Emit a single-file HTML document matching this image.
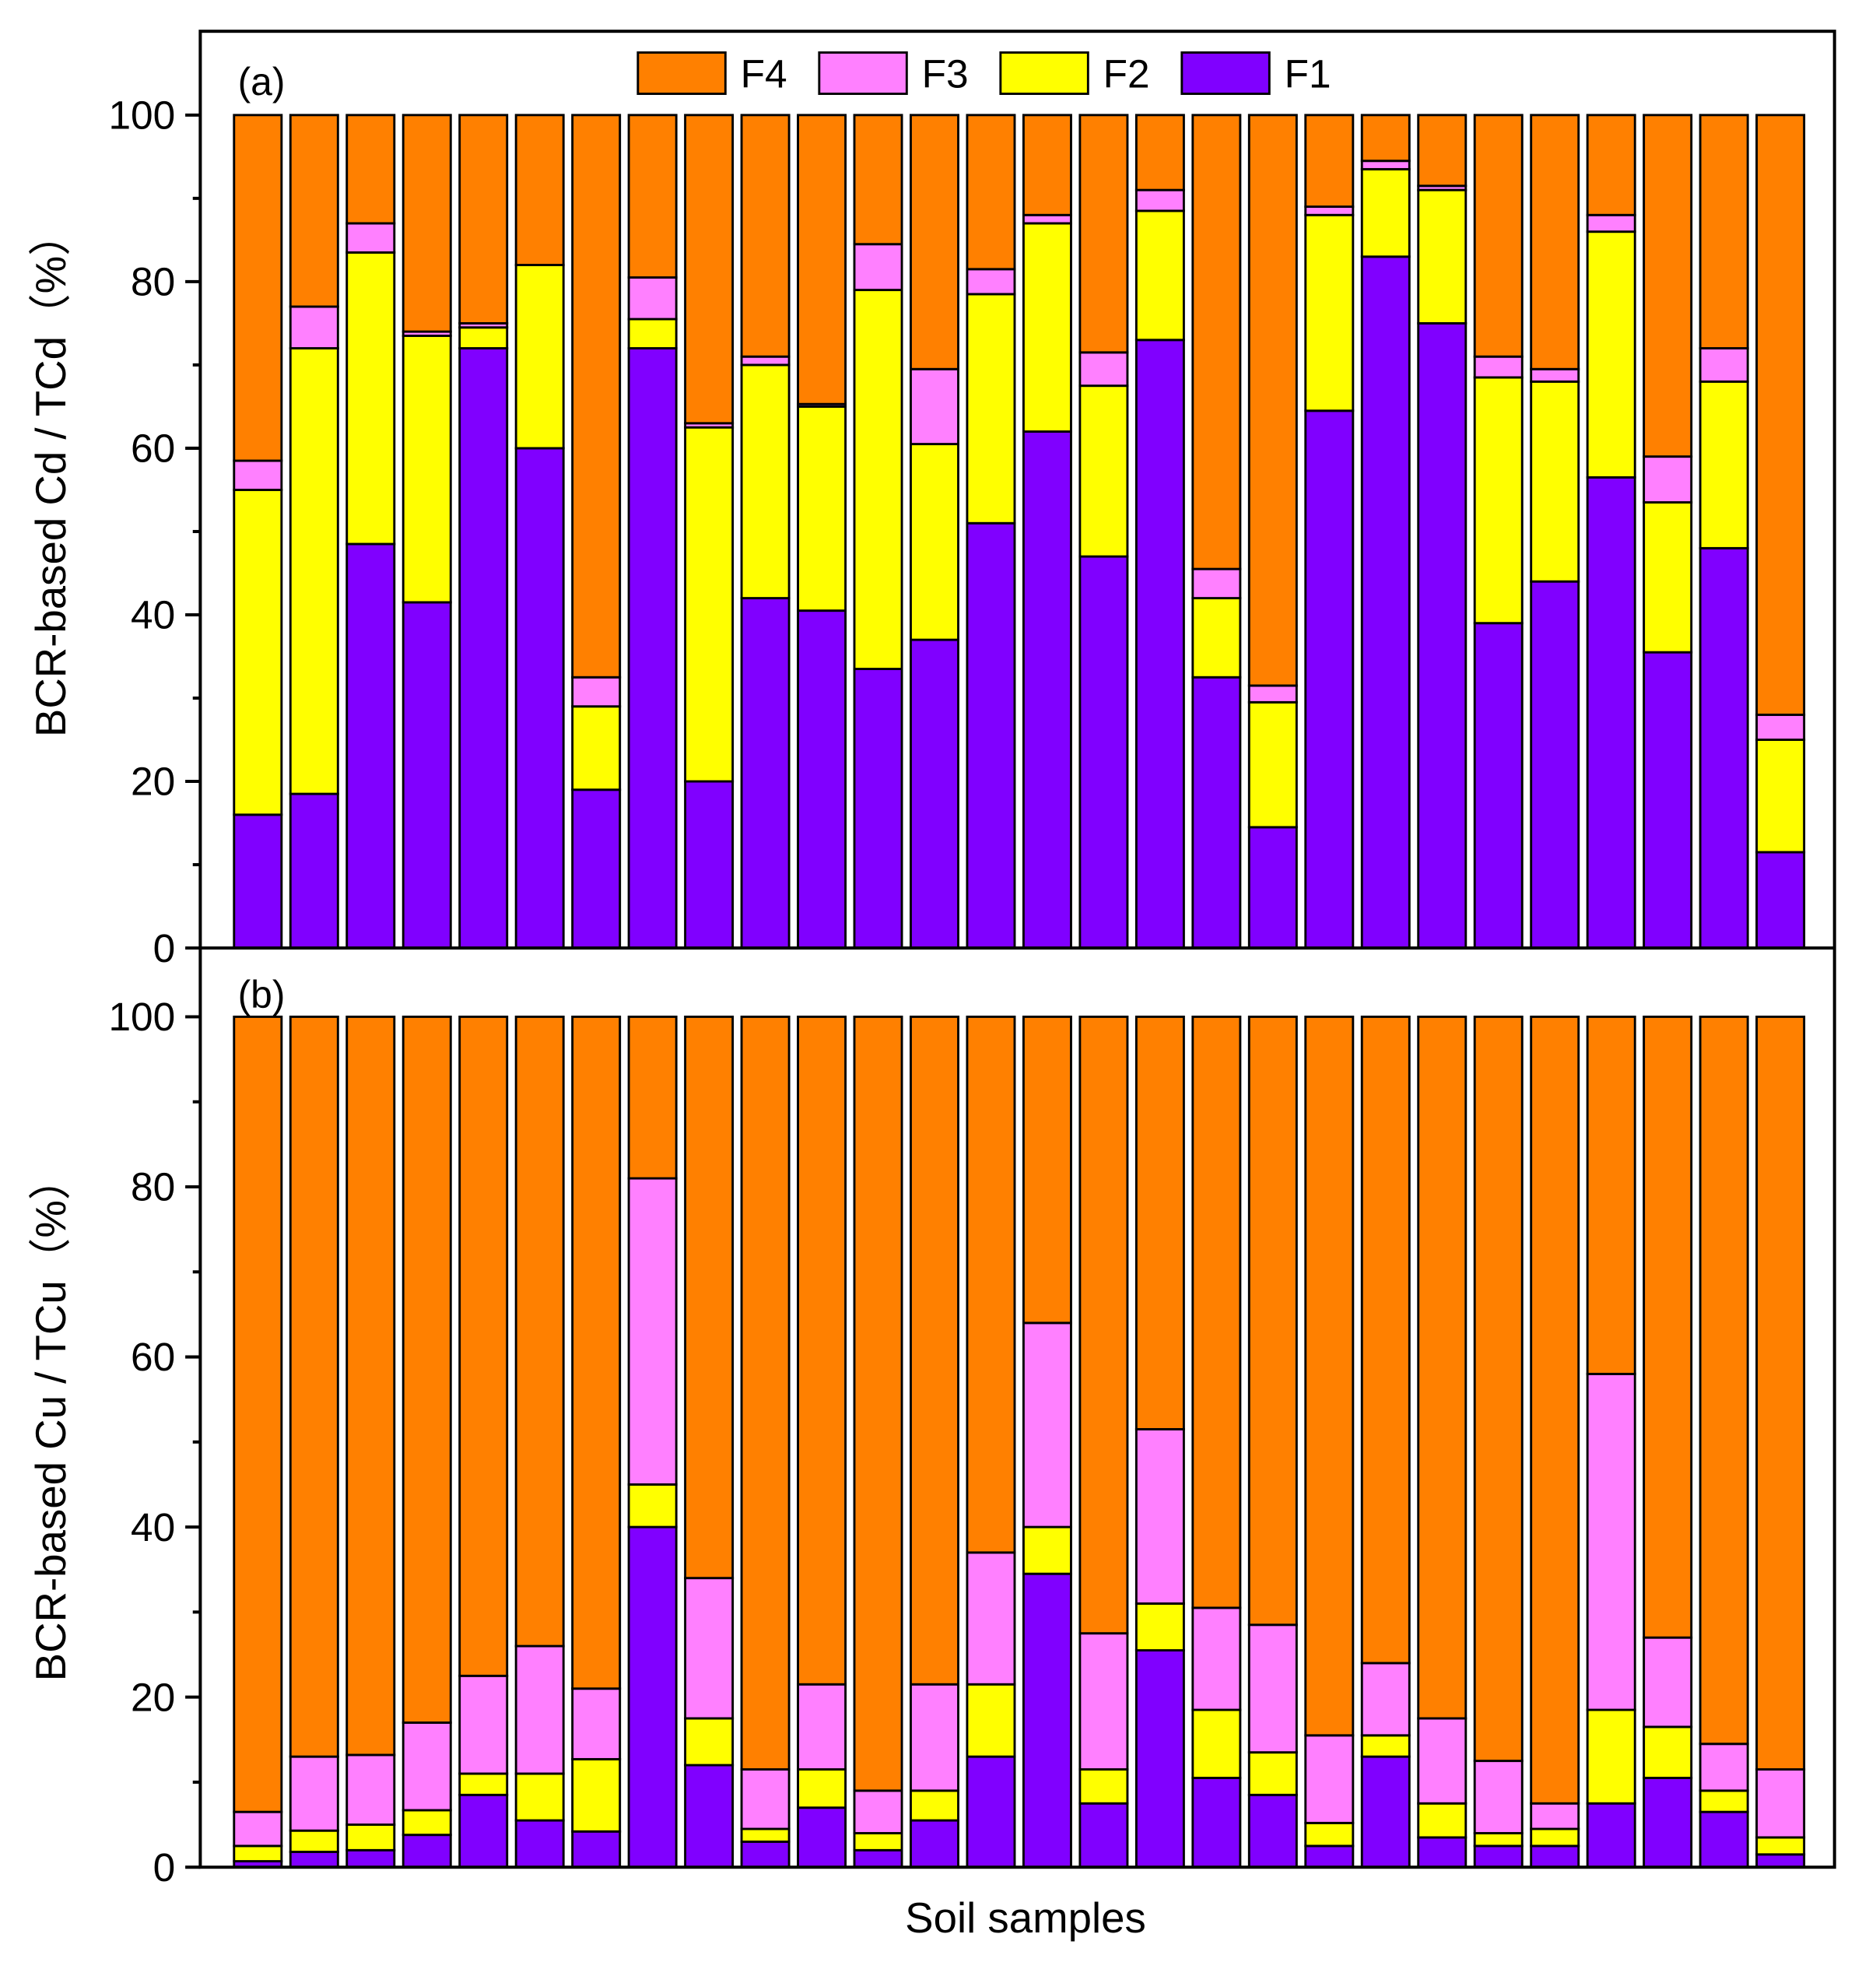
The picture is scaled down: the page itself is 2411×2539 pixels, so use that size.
<!DOCTYPE html>
<html><head><meta charset="utf-8"><style>
html,body{margin:0;padding:0;background:#fff;}
svg{display:block;}
text{font-family:"Liberation Sans","Noto Sans CJK SC",sans-serif;fill:#000;}
</style></head><body>
<svg id="chart" width="2411" height="2539" viewBox="0 0 1500 1580" xmlns="http://www.w3.org/2000/svg">
<rect x="0" y="0" width="1500" height="1580" fill="#fff"/>
<g id="plot"></g>
<rect x="160" y="25" width="1307" height="1468" fill="none" stroke="#000" stroke-width="2.5"/>
<line x1="160" y1="758" x2="1467" y2="758" stroke="#000" stroke-width="2.5"/>
<text x="190" y="76" font-size="31">(a)</text>
<text x="190" y="806" font-size="31">(b)</text>
<text transform="translate(52,380) rotate(-90)" text-anchor="middle" font-size="34">BCR-based Cd / TCd（%）</text>
<text transform="translate(52,1135) rotate(-90)" text-anchor="middle" font-size="34">BCR-based Cu / TCu（%）</text>
<text x="820" y="1545" text-anchor="middle" font-size="34">Soil samples</text>
<g id="legend"></g>
</svg>
<script>
const categories = Array.from({length:28},(_,i)=>'S'+(i+1));
const cdF1 = [16,18.5,48.5,41.5,72,60,19,72,20,42,40.5,33.5,37,51,62,47,73,32.5,14.5,64.5,83,75,39,44,56.5,35.5,48,11.5];
const cdF2 = [39,53.5,35,32,2.5,22,10,3.5,42.5,28,24.5,45.5,23.5,27.5,25,20.5,15.5,9.5,15,23.5,10.5,16,29.5,24,29.5,18,20,13.5];
const cdF3 = [3.5,5,3.5,0.5,0.5,0,3.5,5,0.5,1,0.3,5.5,9,3,1,4,2.5,3.5,2,1,1,0.5,2.5,1.5,2,5.5,4,3];
const cuF1 = [0.7,1.8,2,3.8,8.5,5.5,4.2,40,12,3,7,2,5.5,13,34.5,7.5,25.5,10.5,8.5,2.5,13,3.5,2.5,2.5,7.5,10.5,6.5,1.5];
const cuF2 = [1.8,2.5,3,2.9,2.5,5.5,8.5,5,5.5,1.5,4.5,2,3.5,8.5,5.5,4,5.5,8,5,2.7,2.5,4,1.5,2,11,6,2.5,2];
const cuF3 = [4,8.7,8.2,10.3,11.5,15,8.3,36,16.5,7,10,5,12.5,15.5,24,16,20.5,12,15,10.3,8.5,10,8.5,3,39.5,10.5,5.5,8];
const yTicks = [0,20,40,60,80,100];
const yMinor = [10,30,50,70,90];
const seriesNames = ['F4','F3','F2','F1'];
const colors = {F1:'#8000FF',F2:'#FFFF00',F3:'#FF80FF',F4:'#FF8000'};

const NS='http://www.w3.org/2000/svg';
const plot=document.getElementById('plot');
function mk(tag,attrs,parent){const e=document.createElementNS(NS,tag);for(const k in attrs)e.setAttribute(k,attrs[k]);(parent||plot).appendChild(e);return e;}
const xStart=187, xStep=45.1, barW=38;
function xPos(i){return xStart+i*xStep;}
function panel(key,y0,y100,f1,f2,f3){
  const ys=v=>y0+(y100-y0)*v/100;
  categories.forEach((c,i)=>{
    const vals={F1:f1[i],F2:f2[i],F3:f3[i]};
    vals.F4=100-f1[i]-f2[i]-f3[i];
    let base=0;
    ['F1','F2','F3','F4'].forEach(s=>{
      const v=vals[s];
      const r=mk('rect',{x:xPos(i),y:ys(base+v),width:barW,height:Math.max(0,ys(base)-ys(base+v)),fill:colors[s],stroke:'#000','stroke-width':1.8});
      
      
      base+=v;
    });
  });
  yTicks.forEach(t=>{
    const l=mk('line',{x1:148,x2:160,y1:ys(t),y2:ys(t),stroke:'#000','stroke-width':2.5});
    
    
    const tx=mk('text',{x:140,y:ys(t)+11,'text-anchor':'end','font-size':32});
    tx.textContent=t;
    
    
  });
  yMinor.forEach(t=>{
    const l=mk('line',{x1:154,x2:160,y1:ys(t),y2:ys(t),stroke:'#000','stroke-width':2.5});
    
    
  });
}
panel('cd',758,92,cdF1,cdF2,cdF3);
panel('cu',1493,813,cuF1,cuF2,cuF3);

const lg=document.getElementById('legend');
seriesNames.forEach((s,i)=>{
  const x=510+i*145;
  const r=mk('rect',{x:x,y:42,width:70,height:33,fill:colors[s],stroke:'#000','stroke-width':1.8},lg);
  
  
  const t=mk('text',{x:x+82,y:70,'font-size':32},lg);
  t.textContent=s;
  
  
});
</script>
</body></html>
